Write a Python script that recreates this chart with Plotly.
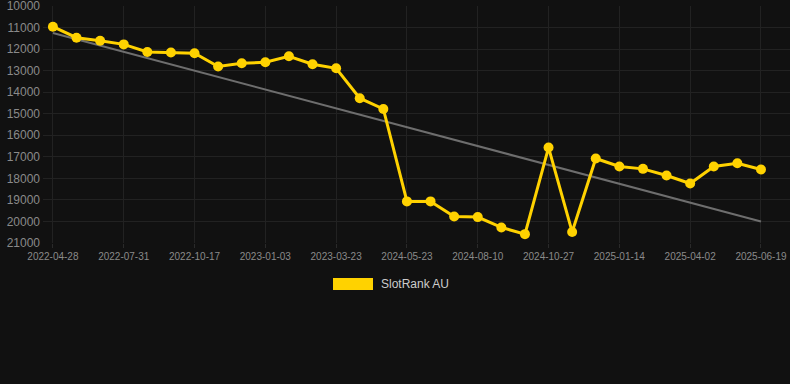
import plotly.graph_objects as go

dates = [
    "2022-04-28", "2022-05-24", "2022-06-27", "2022-07-31", "2022-08-26",
    "2022-09-21", "2022-10-17", "2022-11-12", "2022-12-08", "2023-01-03",
    "2023-01-29", "2023-02-25", "2023-03-23", "2023-04-18", "2023-05-14",
    "2024-05-23", "2024-06-18", "2024-07-15", "2024-08-10", "2024-09-05",
    "2024-10-01", "2024-10-27", "2024-11-22", "2024-12-19", "2025-01-14",
    "2025-02-09", "2025-03-07", "2025-04-02", "2025-04-28", "2025-05-24",
    "2025-06-19",
]
ranks = [
    10960, 11470, 11610, 11780, 12130,
    12160, 12190, 12810, 12660, 12610,
    12330, 12700, 12890, 14280, 14780,
    19070, 19070, 19770, 19800, 20280,
    20590, 16570, 20490, 17080, 17450,
    17560, 17870, 18240, 17450, 17300,
    17590,
]
trend_x = [dates[0], dates[-1]]
trend_y = [11250, 20000]
tick_dates = dates[::3]
y_ticks = list(range(10000, 21001, 1000))
y_labels = [str(v) for v in y_ticks]
series_name = "SlotRank AU"

YELLOW = "#FFD200"
BG = "#111111"
GRID = "#222222"

fig = go.Figure()
fig.add_trace(go.Scatter(
    x=trend_x, y=trend_y, mode="lines",
    line=dict(color="#6e6e6e", width=2),
    hoverinfo="skip", showlegend=False,
))
fig.add_trace(go.Scatter(
    x=dates, y=ranks, mode="lines+markers", name=series_name,
    line=dict(color=YELLOW, width=3),
    marker=dict(color=YELLOW, size=10),
    showlegend=False,
))

fig.update_layout(
    width=790, height=384,
    margin=dict(l=43, r=0, t=6, b=141),
    paper_bgcolor=BG, plot_bgcolor=BG,
    font=dict(family="Liberation Sans, Arial, sans-serif"),
    xaxis=dict(
        type="category", categoryorder="array", categoryarray=dates,
        range=[-0.42, 31.23],
        tickmode="array", tickvals=tick_dates, ticktext=tick_dates,
        tickfont=dict(size=10, color="#8a8a8a"),
        showgrid=True, gridcolor=GRID, gridwidth=1,
        zeroline=False, showline=False,
        ticks="outside", ticklen=4, tickcolor="#2a2a2a",
    ),
    yaxis=dict(
        range=[21002, 9998],
        tickmode="array", tickvals=y_ticks, ticktext=y_labels,
        tickfont=dict(size=12, color="#8a8a8a"),
        showgrid=True, gridcolor=GRID, gridwidth=1,
        zeroline=False, showline=False, ticks="", ticklabelstandoff=2,
        ticklabeloverflow="allow",
    ),
    showlegend=False,
)

# legend drawn as swatch + label
fig.add_shape(type="rect", xref="paper", yref="paper",
              x0=(333 - 43) / 747, x1=(373 - 43) / 747,
              y0=(243 - 290) / 237, y1=(243 - 278) / 237,
              fillcolor=YELLOW, line=dict(width=0))
fig.add_annotation(xref="paper", yref="paper",
                   x=(379 - 43) / 747, y=(243 - 284) / 237,
                   xanchor="left", yanchor="middle", showarrow=False,
                   text=series_name, font=dict(size=12, color="#cccccc"))

fig.write_html(
    "out.html",
    config={"displayModeBar": False},
    post_script="document.body.style.margin='0';document.body.style.background='#111111';",
)
